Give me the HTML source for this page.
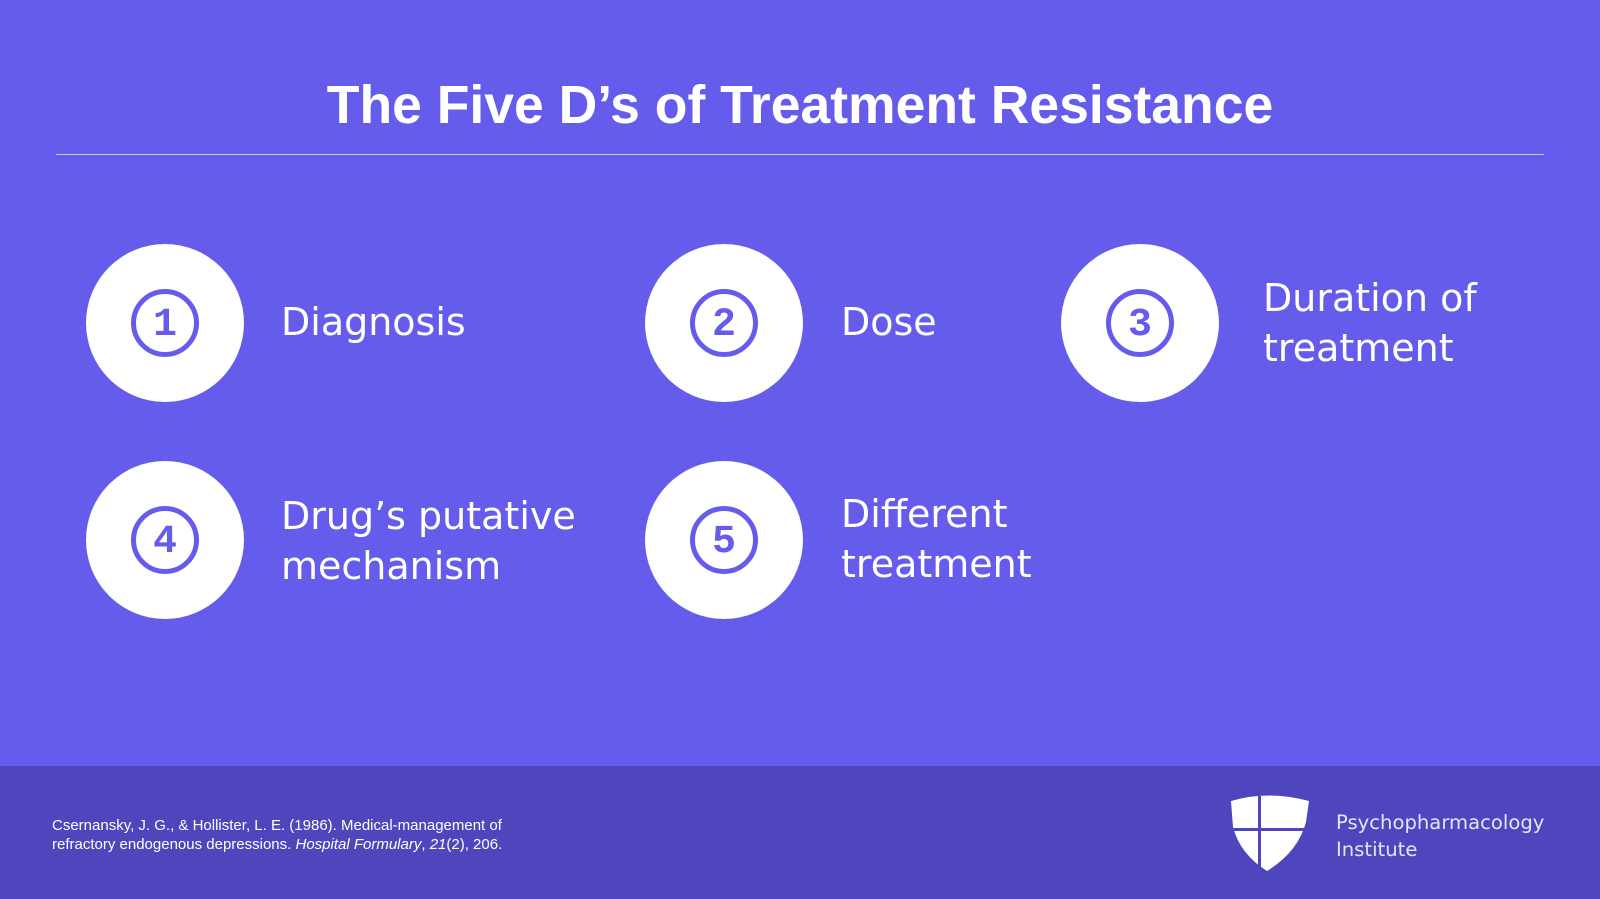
<!DOCTYPE html>
<html><head><meta charset="utf-8"><style>
*{margin:0;padding:0;box-sizing:border-box}
body{width:1600px;height:899px;background:#665cec;position:relative;overflow:hidden;font-family:"Liberation Sans","DejaVu Sans",sans-serif;color:#fff}
.title{position:absolute;left:0;width:1600px;top:75px;text-align:center;font-size:53.5px;font-weight:bold}
.line{position:absolute;left:56px;width:1488px;top:154px;height:1px;background:#c9c5f7}
.c{position:absolute;width:158px;height:158px;border-radius:50%;background:#fff}
.c .r{position:absolute;left:45px;top:45px;width:68px;height:68px;border:5px solid #665cec;border-radius:50%;color:#665cec;font-weight:bold;font-size:40px;line-height:63px;text-align:center;font-family:"Liberation Mono",monospace}
.t{position:absolute;font-family:"DejaVu Sans","Liberation Sans",sans-serif;font-size:38px;line-height:50px}
.foot{position:absolute;left:0;top:766px;width:1600px;height:133px;background:#4f46be}
.cite{position:absolute;left:52px;top:817px;font-size:15px;line-height:18.5px}
.logo{position:absolute;left:1336px;top:809px;font-family:"DejaVu Sans",sans-serif;font-size:19.6px;line-height:27px;color:#e6e4fb}
</style></head><body>
<div class="title">The Five D’s of Treatment Resistance</div>
<div class="line"></div>
<div class="c" style="left:86px;top:244px"><div class="r">1</div></div>
<div class="c" style="left:645px;top:244px"><div class="r">2</div></div>
<div class="c" style="left:1061px;top:244px"><div class="r">3</div></div>
<div class="c" style="left:86px;top:461px"><div class="r">4</div></div>
<div class="c" style="left:645px;top:461px"><div class="r">5</div></div>
<div class="t" style="left:281px;top:297px">Diagnosis</div>
<div class="t" style="left:841px;top:297px">Dose</div>
<div class="t" style="left:1263px;top:273px">Duration of<br>treatment</div>
<div class="t" style="left:281px;top:491px">Drug’s putative<br>mechanism</div>
<div class="t" style="left:841px;top:489px">Different<br>treatment</div>
<div class="foot"></div>
<div class="cite">Csernansky, J. G., &amp; Hollister, L. E. (1986). Medical-management of<br>refractory endogenous depressions. <i>Hospital Formulary</i>, <i>21</i>(2), 206.</div>
<svg style="position:absolute;left:1228px;top:792px" width="84" height="80" viewBox="0 0 84 80">
<path d="M3 9 Q40 -2 81 9 L78 30 Q70 60 39 79 Q12 62 5 35 Z" fill="#fff"/>
<rect x="30" y="4" width="3" height="72" fill="#4f46be"/>
<rect x="5" y="36" width="74" height="3" fill="#4f46be"/>
</svg>
<div class="logo">Psychopharmacology<br>Institute</div>
</body></html>
